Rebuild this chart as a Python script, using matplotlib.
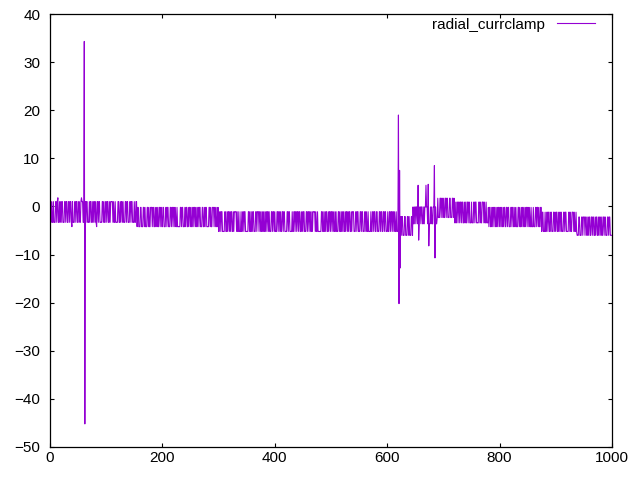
#!/usr/bin/env python3
"""radial_currclamp trace, gnuplot-like look."""
import matplotlib

matplotlib.use("Agg")
import matplotlib.pyplot as plt
import numpy as np

# per-sample state: h = upper level, l = lower level,
# u = a bit above upper, d = a bit below lower
STATES = """
hhlhllhlll hhlhullhlh lhhlllhhlh hllhhlhhld hlllhhlhhl lhhllhuhhl llhhlhhlll hlhhllhlhh lhldhhlhhl lllhhlhllh
hlhhllhlhh hhlhllhlll lhhllhlhhl hlllhhlhhl llhhlhhlll hllhhlhhll lhhlllhhlh lllhhlhllh hhlhhllhlh lhllhhlhhl
lhhlllhhlh hlllhhlhhl hhlhllhlll llhhlhhlll hlhhllhlhh lhllhhlhhl hllhhlhhll lhhllhlhhl lllhhlhllh hhlhhllhlh
llhhlhhlll lhhllhlhhl hlhhllhlhh hhlhllhlll hllhhlhhll lllhhlhllh lhhlllhhlh hhlhhllhlh lhllhhlhhl hlllhhlhhl
hlllhhlhhl hllhhlhhll llhhlhhlll lhllhhlhhl hhlhhllhlh lhhlllhhlh hlhhllhlhh hhlhllhlll lllhhlhllh lhhllhlhhl
hhlhhllhlh lllhhlhllh lhhllhlhhl hlhhllhlhh hlllhhlhhl llhhlhhlll hhlhllhlll lhllhhlhhl lhhlllhhlh hllhhlhhll
lhllhhlhhl hhlhllhlll hllhhlhhll lhhlllhhlh lllhhlhllh hlhhllhlhh lhhllhlhhl hhlhhllhlh llhhlhhlll hlllhhlhhl
hllhhlhhll lhhlllhhlh lhllhhlhhl hhlhhllhlh llhhlhhlll hlllhhlhhl lllhhlhllh hhlhllhlll hlhhllhlhh lhhllhlhhl
hlhhllhlhh llhhlhhlll hhlhhllhlh lllhhlhllh lhhllhlhhl hhlhllhlll hlllhhlhhl hllhhlhhll lhllhhlhhl lhhlllhhlh
lhhllhlhhl hlllhhlhhl lllhhlhllh hhlhllhlll lhhlllhhlh hhlhhllhlh hllhhlhhll hlhhllhlhh lhllhhlhhl llhhlhhlll
"""

# baseline levels per stretch of samples
seg_start = [0, 155, 300, 624, 646, 689, 720, 780, 875, 938]
seg_high = [1.0, -0.2, -1.1, -2.1, -0.1, 1.7, 0.9, -0.2, -1.2, -2.2]
seg_low = [-3.3, -4.2, -5.2, -6.0, -3.6, -2.3, -3.4, -4.2, -5.2, -6.0]

# isolated spikes
spike_x = [61, 62, 620, 621, 622, 623, 655, 656, 669, 673, 674, 684, 685]
spike_y = [34.3, -45.2, 19.0, -20.2, 7.5, -12.8, 4.4, -7.0, 4.4, 4.6, -8.2, 8.5, -10.7]

LABEL = "radial_currclamp"


def build_trace():
    states = "".join(STATES.split())
    y = np.empty(len(states))
    for i, c in enumerate(states):
        k = np.searchsorted(seg_start, i, side="right") - 1
        hi, lo = seg_high[k], seg_low[k]
        if c == "h":
            y[i] = hi
        elif c == "u":
            y[i] = hi + 0.8
        elif c == "d":
            y[i] = lo - 0.9
        else:
            y[i] = lo
    for xs, ys in zip(spike_x, spike_y):
        if xs < len(y):
            y[xs] = ys
    return np.arange(len(y)), y


def main():
    plt.rcParams["font.family"] = ["Liberation Sans", "DejaVu Sans"]
    plt.rcParams["path.simplify"] = False
    x, y = build_trace()

    fig = plt.figure(figsize=(6.4, 4.8), dpi=100)
    ax = fig.add_axes([50 / 640, 1 - 447 / 480, 562 / 640, 433 / 480])
    ax.plot(x, y, color="#9400d3", linewidth=0.8, label=LABEL)

    ax.set_xlim(0, 1000)
    ax.set_ylim(-50, 40)
    ax.set_xticks(np.arange(0, 1001, 200))
    ax.set_yticks(np.arange(-50, 41, 10))
    ax.tick_params(direction="in", length=3, width=0.8, top=True, right=True,
                   labelsize=11, colors="black")
    ax.tick_params(axis="y", pad=7)
    ax.tick_params(axis="x", pad=3)
    for s in ax.spines.values():
        s.set_linewidth(0.9)

    ax.legend(loc="center right", bbox_to_anchor=(0.970, 0.975), frameon=False,
              markerfirst=False, handlelength=2.5, handletextpad=0.8,
              borderaxespad=0, borderpad=0, fontsize=11)

    fig.savefig("out.png", dpi=100)
    plt.close(fig)


if __name__ == "__main__":
    main()
